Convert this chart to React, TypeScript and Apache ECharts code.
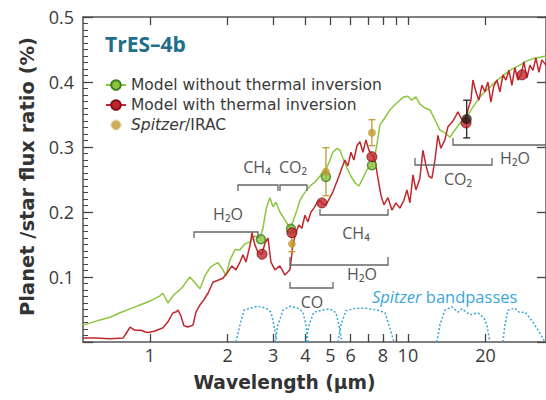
import React, { useEffect, useRef } from "react";
import * as echarts from "echarts";

// ---- data (wavelength in µm, planet/star flux ratio in %) ----
const modelWithoutInversion: [number, number][] = [
  [0.55, 0.026], [0.585, 0.029], [0.64, 0.034], [0.7, 0.038], [0.765, 0.045], [0.837, 0.051],
  [0.915, 0.057], [1.0, 0.063], [1.093, 0.071], [1.123, 0.075], [1.174, 0.06], [1.228, 0.071],
  [1.284, 0.078], [1.342, 0.085], [1.379, 0.092], [1.429, 0.1], [1.494, 0.091], [1.562, 0.082],
  [1.634, 0.102], [1.708, 0.114], [1.755, 0.118], [1.835, 0.122], [1.918, 0.111], [1.971, 0.102],
  [2.042, 0.126], [2.135, 0.142], [2.233, 0.142], [2.334, 0.151], [2.441, 0.154], [2.553, 0.163],
  [2.669, 0.16], [2.742, 0.175], [2.816, 0.203], [2.867, 0.214], [2.918, 0.222], [2.997, 0.208],
  [3.078, 0.215], [3.19, 0.2], [3.336, 0.188], [3.488, 0.175], [3.583, 0.185], [3.714, 0.203],
  [3.814, 0.218], [3.917, 0.226], [4.06, 0.234], [4.17, 0.24], [4.36, 0.246], [4.559, 0.255],
  [4.683, 0.262], [4.811, 0.265], [4.985, 0.28], [5.12, 0.292], [5.306, 0.298], [5.45, 0.295],
  [5.598, 0.283], [5.801, 0.268], [6.012, 0.255], [6.23, 0.245], [6.458, 0.24], [6.692, 0.252],
  [6.937, 0.265], [7.252, 0.272], [7.516, 0.295], [7.79, 0.334], [8.145, 0.345], [8.518, 0.357],
  [8.906, 0.365], [9.311, 0.372], [9.65, 0.377], [10.0, 0.378], [10.36, 0.372], [10.74, 0.377],
  [11.13, 0.366], [11.64, 0.36], [12.17, 0.357], [12.73, 0.342], [13.3, 0.326], [13.91, 0.322],
  [14.55, 0.315], [15.21, 0.326], [15.91, 0.337], [16.63, 0.345], [17.39, 0.354], [18.18, 0.366],
  [19.02, 0.377], [19.88, 0.385], [20.79, 0.392], [21.74, 0.4], [22.73, 0.406], [23.77, 0.412],
  [24.85, 0.418], [25.98, 0.422], [27.17, 0.426], [28.41, 0.431], [29.71, 0.434], [31.07, 0.437],
  [32.48, 0.438], [34.27, 0.44],
];

const modelWithInversion: [number, number][] = [
  [0.55, 0.006], [0.612, 0.006], [0.7, 0.005], [0.786, 0.006], [0.814, 0.015], [0.837, 0.023],
  [0.875, 0.018], [0.923, 0.018], [0.965, 0.015], [1.0, 0.015], [1.046, 0.017], [1.093, 0.02],
  [1.123, 0.022], [1.174, 0.031], [1.228, 0.045], [1.261, 0.046], [1.284, 0.049], [1.319, 0.04],
  [1.354, 0.025], [1.404, 0.023], [1.468, 0.026], [1.508, 0.046], [1.562, 0.057], [1.619, 0.065],
  [1.678, 0.075], [1.755, 0.092], [1.835, 0.095], [1.918, 0.098], [2.006, 0.108], [2.078, 0.117],
  [2.154, 0.111], [2.233, 0.123], [2.294, 0.134], [2.355, 0.123], [2.441, 0.148], [2.485, 0.168],
  [2.553, 0.149], [2.622, 0.138], [2.717, 0.135], [2.791, 0.152], [2.867, 0.16], [2.944, 0.123],
  [3.051, 0.111], [3.19, 0.117], [3.336, 0.103], [3.488, 0.111], [3.583, 0.149], [3.681, 0.169],
  [3.78, 0.18], [3.882, 0.175], [3.988, 0.195], [4.096, 0.185], [4.207, 0.2], [4.322, 0.206],
  [4.439, 0.214], [4.559, 0.218], [4.683, 0.212], [4.811, 0.211], [4.985, 0.222], [5.12, 0.231],
  [5.259, 0.243], [5.402, 0.255], [5.548, 0.268], [5.698, 0.28], [5.853, 0.271], [6.012, 0.292],
  [6.175, 0.28], [6.343, 0.302], [6.516, 0.308], [6.692, 0.292], [6.874, 0.311], [7.061, 0.295],
  [7.252, 0.288], [7.449, 0.28], [7.651, 0.252], [7.859, 0.226], [8.072, 0.211], [8.367, 0.222],
  [8.67, 0.203], [8.985, 0.214], [9.311, 0.206], [9.65, 0.218], [9.911, 0.234], [10.18, 0.214],
  [10.46, 0.257], [10.74, 0.234], [11.13, 0.252], [11.43, 0.295], [11.74, 0.272], [12.06, 0.255],
  [12.39, 0.252], [12.73, 0.28], [13.07, 0.318], [13.42, 0.298], [13.91, 0.311], [14.29, 0.331],
  [14.81, 0.338], [15.21, 0.345], [15.62, 0.354], [16.19, 0.342], [16.63, 0.337], [17.08, 0.357],
  [17.55, 0.372], [17.86, 0.403], [18.35, 0.385], [18.85, 0.372], [19.36, 0.395], [19.88, 0.385],
  [20.42, 0.4], [20.97, 0.369], [21.54, 0.394], [22.13, 0.403], [22.73, 0.385], [23.35, 0.411],
  [23.98, 0.403], [24.63, 0.418], [25.3, 0.395], [25.98, 0.422], [26.69, 0.403], [27.42, 0.411],
  [28.16, 0.431], [28.92, 0.406], [29.71, 0.426], [30.52, 0.418], [31.35, 0.437], [32.2, 0.415],
  [33.07, 0.434], [34.27, 0.426],
];

const bandWithout: [number, number][] = [[2.69, 0.158], [3.52, 0.174], [4.81, 0.254], [7.25, 0.272]];
const bandWith: [number, number][] = [[2.72, 0.135], [3.55, 0.168], [4.64, 0.214], [7.25, 0.285], [16.8, 0.337], [27.7, 0.411]];
// [wavelength, ratio, error]
const spitzerIrac: [number, number, number][] = [[3.55, 0.151, 0.012], [4.81, 0.262, 0.037], [7.25, 0.322, 0.02]];
const otherData: [number, number, number][] = [[16.9, 0.343, 0.029]];

const bandpasses: [number, number][][] = [
  [[2.154, 0], [2.233, 0.026], [2.314, 0.049], [2.441, 0.052], [2.622, 0.055], [2.816, 0.052], [2.944, 0.046], [3.024, 0.026], [3.106, 0]],
  [[3.051, 0], [3.134, 0.026], [3.277, 0.049], [3.488, 0.055], [3.747, 0.052], [3.917, 0.046], [4.024, 0.026], [4.096, 0]],
  [[4.024, 0], [4.133, 0.026], [4.322, 0.046], [4.642, 0.049], [4.985, 0.051], [5.259, 0.045], [5.402, 0.026], [5.548, 0]],
  [[5.354, 0], [5.499, 0.026], [5.75, 0.048], [6.286, 0.052], [6.874, 0.052], [7.651, 0.049], [8.145, 0.045], [8.442, 0.026], [8.827, 0]],
  [[12.95, 0], [13.3, 0.026], [13.91, 0.049], [14.81, 0.054], [15.62, 0.046], [16.19, 0.051], [17.39, 0.042], [18.68, 0.045], [19.71, 0.037], [20.24, 0.026], [20.79, 0]],
  [[23.35, 0], [23.77, 0.026], [24.41, 0.049], [25.98, 0.052], [27.17, 0.045], [28.41, 0.046], [29.71, 0.037], [31.07, 0.026], [32.78, 0.011], [33.96, 0]],
];

const xLabelValues = [1, 2, 3, 4, 5, 6, 8, 10, 20];
const xTickValues = [1, 2, 3, 4, 5, 6, 7, 8, 9, 10, 20];
const X_MIN = 0.55;
const X_MAX = 34.3;

const NAME_WITHOUT = "Model without thermal inversion";
const NAME_WITH = "Model with thermal inversion";
const NAME_SPITZER = "Spitzer/IRAC";

// ---- styling ----
const GREEN = "#8cc63f";
const GREEN_DARK = "#3e7d23";
const RED = "#c1272d";
const RED_DARK = "#7d1016";
const GOLD = "#c29a2e";
const BLUE = "#3aa6da";
const AXIS = "#555";
const TEXT = "#3a3a3a";
const FONT = "'Open Sans', 'Noto Sans', sans-serif";
const WIDE = "'DejaVu Sans', 'Open Sans', sans-serif";

const lx = (d: number[]) => [Math.log10(d[0]), ...d.slice(1)];

function bracket(points: number[][], label: string, lxp: number, lyp: number) {
  return [
    { type: "polyline", shape: { points }, style: { stroke: "#666", lineWidth: 1.3, fill: "none" }, z: 50 },
    {
      type: "text", x: lxp, y: lyp, z: 50,
      style: { text: label, fill: "#555", font: `16px ${FONT}`, align: "center", verticalAlign: "middle" },
    },
  ];
}

function errorRender(color: string) {
  return (params: any, api: any) => {
    const x = api.value(0), y = api.value(1), e = api.value(2);
    const top = api.coord([x, y + e]);
    const bot = api.coord([x, y - e]);
    const cap = 3.5;
    const st = { stroke: color, lineWidth: 1.3 };
    return {
      type: "group",
      children: [
        { type: "line", shape: { x1: top[0], y1: top[1], x2: bot[0], y2: bot[1] }, style: st },
        { type: "line", shape: { x1: top[0] - cap, y1: top[1], x2: top[0] + cap, y2: top[1] }, style: st },
        { type: "line", shape: { x1: bot[0] - cap, y1: bot[1], x2: bot[0] + cap, y2: bot[1] }, style: st },
      ],
    };
  };
}

export default function App() {
  const ref = useRef<HTMLDivElement>(null);
  useEffect(() => {
    if (!ref.current) return;
    const chart = echarts.init(ref.current, undefined, { renderer: "svg" });
    const xCommon = {
      type: "value",
      min: Math.log10(X_MIN),
      max: Math.log10(X_MAX),
      splitLine: { show: false },
      axisLine: { show: true, onZero: false, lineStyle: { color: AXIS, width: 1.5 } },
      axisTick: { show: true, inside: true, length: 8, customValues: xTickValues.map(Math.log10), lineStyle: { color: "#444", width: 1.3 } },
    };
    const option: any = {
      animation: false,
      textStyle: { fontFamily: FONT },
      grid: { left: 83, right: 0, top: 17, bottom: 58, containLabel: false },
      legend: {
        orient: "vertical",
        left: 100,
        top: 72,
        itemWidth: 20,
        itemHeight: 12,
        itemGap: 4,
        selectedMode: false,
        data: [
          { name: NAME_WITHOUT },
          { name: NAME_WITH },
          { name: NAME_SPITZER, itemStyle: { borderColor: "#fff", borderWidth: 2.5 } },
        ],
        formatter: (n: string) => (n === NAME_SPITZER ? "{i|Spitzer}/IRAC" : n),
        textStyle: {
          fontSize: 15.5, color: TEXT, fontFamily: WIDE,
          rich: { i: { fontStyle: "italic", fontSize: 15.5, color: TEXT, fontFamily: WIDE } },
        },
      },
      xAxis: [
        {
          ...xCommon,
          position: "bottom",
          name: "Wavelength (µm)",
          nameLocation: "middle",
          nameGap: 31,
          nameTextStyle: { fontSize: 18.7, fontWeight: "bold", color: "#333", fontFamily: WIDE, padding: [0, 60, 0, 0] },
          axisLabel: {
            customValues: xLabelValues.map(Math.log10),
            formatter: (v: number) => String(Math.round(Math.pow(10, v))),
            fontSize: 18, color: TEXT, margin: 4,
          },
        },
        { ...xCommon, position: "top", axisLabel: { show: false } },
      ],
      yAxis: [
        {
          type: "value", min: 0, max: 0.5, interval: 0.1, position: "left",
          name: "Planet /star flux ratio (%)",
          nameLocation: "middle",
          nameGap: 44,
          nameTextStyle: { fontSize: 19.5, fontWeight: "bold", color: "#333", fontFamily: WIDE, padding: [0, 0, 0, 6] },
          splitLine: { show: false },
          axisLine: { show: true, onZero: false, lineStyle: { color: AXIS, width: 1.5 } },
          axisTick: { show: true, inside: true, length: 10, lineStyle: { color: "#444", width: 1.3 } },
          minorTick: { show: true, splitNumber: 10, length: 5, lineStyle: { color: "#444", width: 1 } },
          axisLabel: { formatter: (v: number) => (v === 0 ? "" : v.toFixed(1)), fontSize: 18, color: TEXT, margin: 9 },
        },
        {
          type: "value", min: 0, max: 0.5, interval: 0.1, position: "right",
          splitLine: { show: false },
          axisLine: { show: true, onZero: false, lineStyle: { color: AXIS, width: 1.5 } },
          axisTick: { show: true, inside: true, length: 9, lineStyle: { color: "#444", width: 1.3 } },
          axisLabel: { show: false },
        },
      ],
      series: [
        {
          name: NAME_WITHOUT, type: "line", data: modelWithoutInversion.map(lx), showSymbol: false,
          symbol: "circle", z: 3,
          lineStyle: { color: GREEN, width: 1.5 },
          itemStyle: { color: GREEN, borderColor: GREEN_DARK, borderWidth: 1.5 },
        },
        {
          name: NAME_WITH, type: "line", data: modelWithInversion.map(lx), showSymbol: false,
          symbol: "circle", z: 4,
          lineStyle: { color: RED, width: 1.5 },
          itemStyle: { color: RED, borderColor: RED_DARK, borderWidth: 1.5 },
        },
        ...bandpasses.map((b, i) => ({
          name: "bandpass" + i, type: "line", data: b.map(lx), showSymbol: false, z: 2,
          lineStyle: { color: BLUE, width: 1.5, type: [2, 2] },
        })),
        {
          name: NAME_SPITZER + " error", type: "custom", z: 5,
          renderItem: errorRender(GOLD), data: spitzerIrac.map(lx), encode: { x: 0, y: 1 },
        },
        {
          name: "data error", type: "custom", z: 5,
          renderItem: errorRender("#222"), data: otherData.map(lx), encode: { x: 0, y: 1 },
        },
        {
          name: NAME_WITHOUT, type: "scatter", data: bandWithout.map(lx), symbol: "circle", symbolSize: 9, z: 6,
          itemStyle: { color: GREEN, borderColor: GREEN_DARK, borderWidth: 1.5 },
        },
        {
          name: NAME_WITH, type: "scatter", data: bandWith.map(lx), symbol: "circle", symbolSize: 10, z: 7,
          itemStyle: { color: RED, borderColor: RED_DARK, borderWidth: 1 },
        },
        {
          name: NAME_SPITZER, type: "scatter", data: spitzerIrac.map((d) => [Math.log10(d[0]), d[1]]),
          symbol: "circle", symbolSize: 8, z: 8, itemStyle: { color: GOLD },
        },
        {
          name: "other data", type: "scatter", data: otherData.map((d) => [Math.log10(d[0]), d[1]]),
          symbol: "circle", symbolSize: 10, z: 8, itemStyle: { color: "#2a1a1a" },
        },
      ],
      graphic: [
        {
          type: "text", left: 105, top: 33, z: 50,
          style: { text: "TrES–4b", fill: "#1f6f8b", font: `bold 21px ${FONT}` },
        },
        {
          type: "text", left: 372, top: 288, z: 50,
          style: {
            text: "{i|Spitzer} bandpasses",
            rich: {
              i: { fontStyle: "italic", fontSize: 16.5, fill: BLUE, fontFamily: FONT },
            },
            fill: BLUE, font: `16.5px ${FONT}`,
          },
        },
        ...bracket([[194, 238], [194, 232], [258, 232], [258, 238]], "H₂O", 228, 214),
        ...bracket([[238, 191], [238, 185], [278, 185], [278, 191]], "CH₄", 257, 167),
        ...bracket([[280, 191], [280, 185], [307, 185], [307, 191]], "CO₂", 293, 167),
        ...bracket([[320, 209], [320, 215], [388, 215], [388, 209]], "CH₄", 356, 233),
        ...bracket([[290, 257], [290, 265], [388, 265], [388, 257]], "H₂O", 362, 274),
        ...bracket([[290, 282], [290, 288], [333, 288], [333, 282]], "CO", 312, 302),
        ...bracket([[415, 158], [415, 165], [492, 165], [492, 158]], "CO₂", 458, 179),
        ...bracket([[453, 138], [453, 145], [560, 145]], "H₂O", 515, 158),
      ],
    };
    chart.setOption(option);
    return () => chart.dispose();
  }, []);
  return (
    <div
      ref={ref}
      style={{ position: "fixed", left: 0, top: 0, width: 546, height: 400, background: "#fff" }}
    />
  );
}
